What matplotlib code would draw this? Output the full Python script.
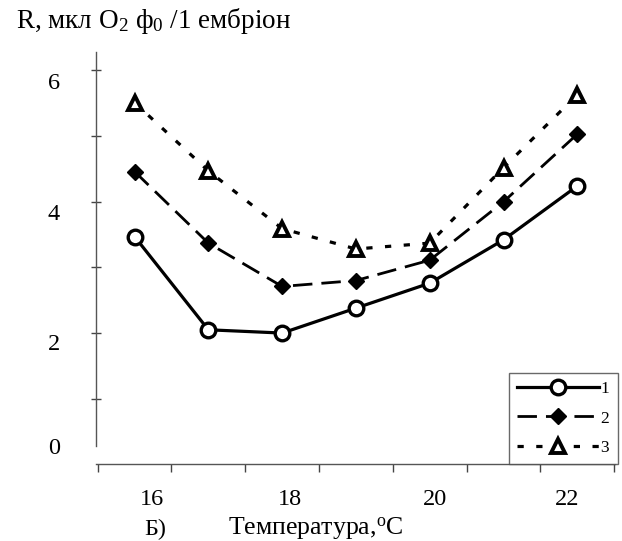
import matplotlib
matplotlib.use("Agg")
import matplotlib.pyplot as plt
from matplotlib.ticker import FixedLocator, NullFormatter, FixedFormatter

plt.rcParams['font.family'] = ['Liberation Serif', 'DejaVu Serif']
plt.rcParams['mathtext.fontset'] = 'custom'
plt.rcParams['mathtext.rm'] = 'Liberation Serif'
plt.rcParams['mathtext.it'] = 'Liberation Serif:italic'
plt.rcParams['lines.scale_dashes'] = False

# Data
temperature = [16, 17, 18, 19, 20, 21, 22]
series1 = [3.47, 2.05, 2.00, 2.38, 2.76, 3.42, 4.24]
series2 = [4.46, 3.37, 2.71, 2.80, 3.11, 4.00, 5.03]
series3 = [5.51, 4.47, 3.59, 3.28, 3.37, 4.52, 5.63]
series_names = ['1', '2', '3']

x_tick_labels = ['16', '18', '20', '22']
x_label_pos = [16.23, 18.1, 20.07, 21.86]
y_tick_labels = ['0', '2', '4', '6']
y_label_pos = [0.28, 1.87, 3.85, 5.84]

fig = plt.figure(figsize=(6.22, 5.41), dpi=100)
ax = fig.add_axes([96 / 622, (541 - 464.4) / 541, 519 / 622, 412.4 / 541])

ax.plot(temperature, series1, color='black', lw=2.3, linestyle='-',
        marker='o', ms=10.5, mfc='white', mec='black', mew=2.4,
        label=series_names[0], clip_on=False, zorder=3)
ax.plot(temperature, series2, color='black', lw=2.0, linestyle=(0, (14, 6.5)),
        marker='D', ms=8.5, mfc='black', mec='black', mew=1,
        label=series_names[1], clip_on=False, zorder=3)
ax.plot(temperature, series3, color='black', lw=2.3, linestyle=(0, (4.5, 9)),
        marker='^', ms=10, mfc='white', mec='black', mew=2.8,
        label=series_names[2], clip_on=False, zorder=3)

ax.set_xlim(15.478, 22.51)
ax.set_ylim(0, 6.28)

for s in ['top', 'right']:
    ax.spines[s].set_visible(False)
ax.spines['left'].set_bounds(0.28, 6.28)
ax.spines['left'].set_color('#555555')
ax.spines['bottom'].set_color('#555555')
ax.spines['left'].set_linewidth(1.0)
ax.spines['bottom'].set_linewidth(1.0)

# x axis: category boundary ticks, labels on minor ticks
ax.xaxis.set_major_locator(FixedLocator([15.5 + i for i in range(8)]))
ax.xaxis.set_major_formatter(NullFormatter())
ax.xaxis.set_minor_locator(FixedLocator(x_label_pos))
ax.xaxis.set_minor_formatter(FixedFormatter(x_tick_labels))
ax.tick_params(axis='x', which='major', direction='out', length=6, width=1, color='#444444')
ax.tick_params(axis='x', which='minor', length=0, pad=18, labelsize=17.5)

# y axis
ax.yaxis.set_major_locator(FixedLocator([1, 2, 3, 4, 5, 6]))
ax.yaxis.set_major_formatter(NullFormatter())
ax.yaxis.set_minor_locator(FixedLocator(y_label_pos))
ax.yaxis.set_minor_formatter(FixedFormatter(y_tick_labels))
ax.tick_params(axis='y', which='major', direction='inout', length=7, width=1, color='#444444')
ax.tick_params(axis='y', which='minor', length=0, pad=26, labelsize=17.5)

fig.text(16 / 622, 1 - 21 / 541, 'R, мкл O$_2$ ф$_0$ /1 ембріон', fontsize=19.5,
         ha='left', va='center')
fig.text(155 / 622, 1 - 535 / 541, 'Б)', fontsize=17.5, ha='center', va='baseline')
fig.text(228 / 622, 1 - 535 / 541, 'Температура,$^{\\mathrm{o}}$C', fontsize=18.5,
         ha='left', va='baseline')

leg = ax.legend(loc='lower right', bbox_to_anchor=(618 / 622, (541 - 464.4) / 541),
                bbox_transform=fig.transFigure, numpoints=1, fontsize=12.5,
                handlelength=4.7, handletextpad=0.1, labelspacing=0.75,
                borderpad=0.5, borderaxespad=0, fancybox=False, frameon=True)
leg.get_frame().set_edgecolor('#444444')
leg.get_frame().set_linewidth(1.0)

fig.savefig('out.png', dpi=100)
